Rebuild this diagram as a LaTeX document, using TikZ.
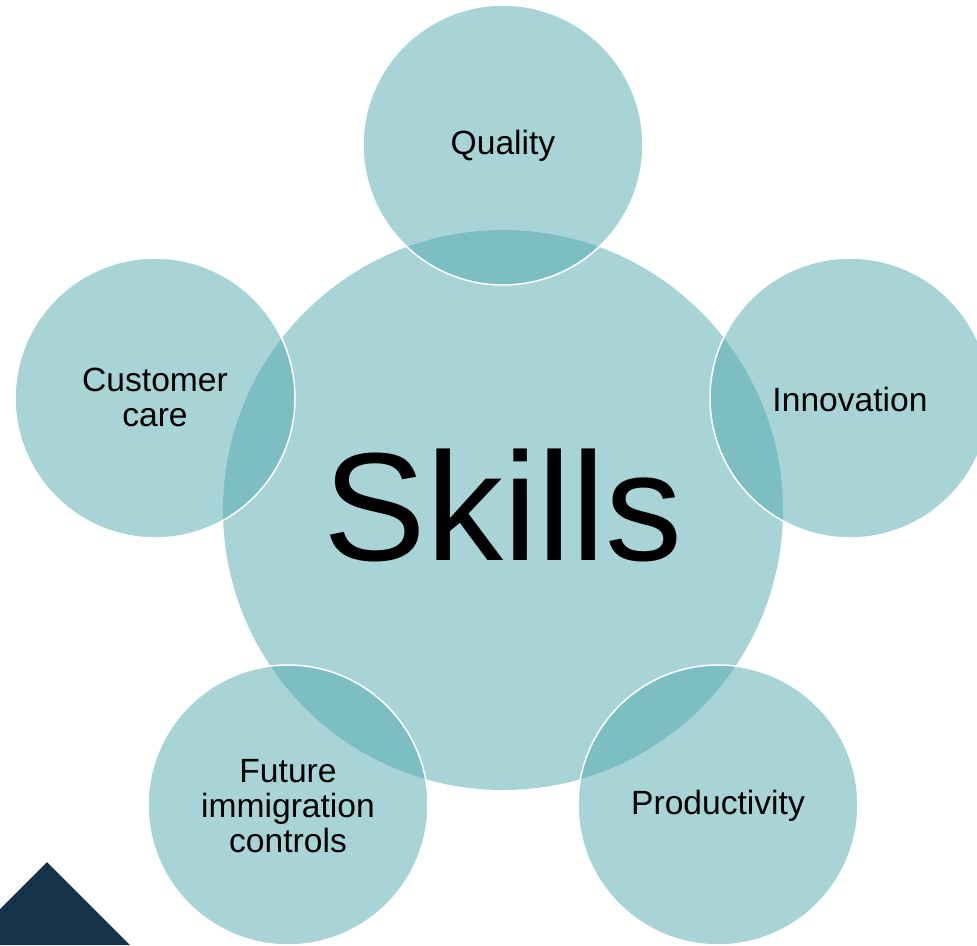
\documentclass[tikz,border=0pt]{standalone}
\usepackage{fontspec}
\setmainfont{Liberation Sans}
\definecolor{tealbase}{RGB}{79,167,173}
\definecolor{navy}{RGB}{20,51,72}
\tikzset{
  bubble/.style={circle, inner sep=0pt, fill=tealbase, fill opacity=0.49, text opacity=1},
  outer/.style={bubble, minimum size=280pt, draw=white, draw opacity=1, line width=1.5pt},
  hub/.style={bubble, minimum size=560pt},
  label/.style={font=\fontsize{33.6}{35}\selectfont, align=center, text=black},
  biglabel/.style={font=\fontsize{154}{160}\selectfont, text=black}
}
\begin{document}
\begin{tikzpicture}[x=1pt,y=-1pt]
\useasboundingbox (0,0) rectangle (977,945);
\begin{scope}
\clip (0,0) rectangle (977,945);
\fill[navy] (0,909) -- (47,862) -- (130,945) -- (0,945) -- cycle;
\node[hub] (skills) at (503,510) {};
\node[outer] (quality) at (503,145) {};
\node[outer] (innovation) at (850,398) {};
\node[outer] (productivity) at (718,805) {};
\node[outer] (future) at (288,805) {};
\node[outer] (customer) at (155,398) {};
\end{scope}
\node[biglabel] (skillst) at (503,505) {Skills};
\node[label] (qualityt) at (503,146) {Quality};
\node[label] (innovationt) at (850,399) {Innovation};
\node[label] (productivityt) at (718,806) {Productivity};
\node[label] (futuret) at (288,806) {Future\\immigration\\controls};
\node[label] (customert) at (155,397) {Customer\\care};
\end{tikzpicture}
\end{document}
